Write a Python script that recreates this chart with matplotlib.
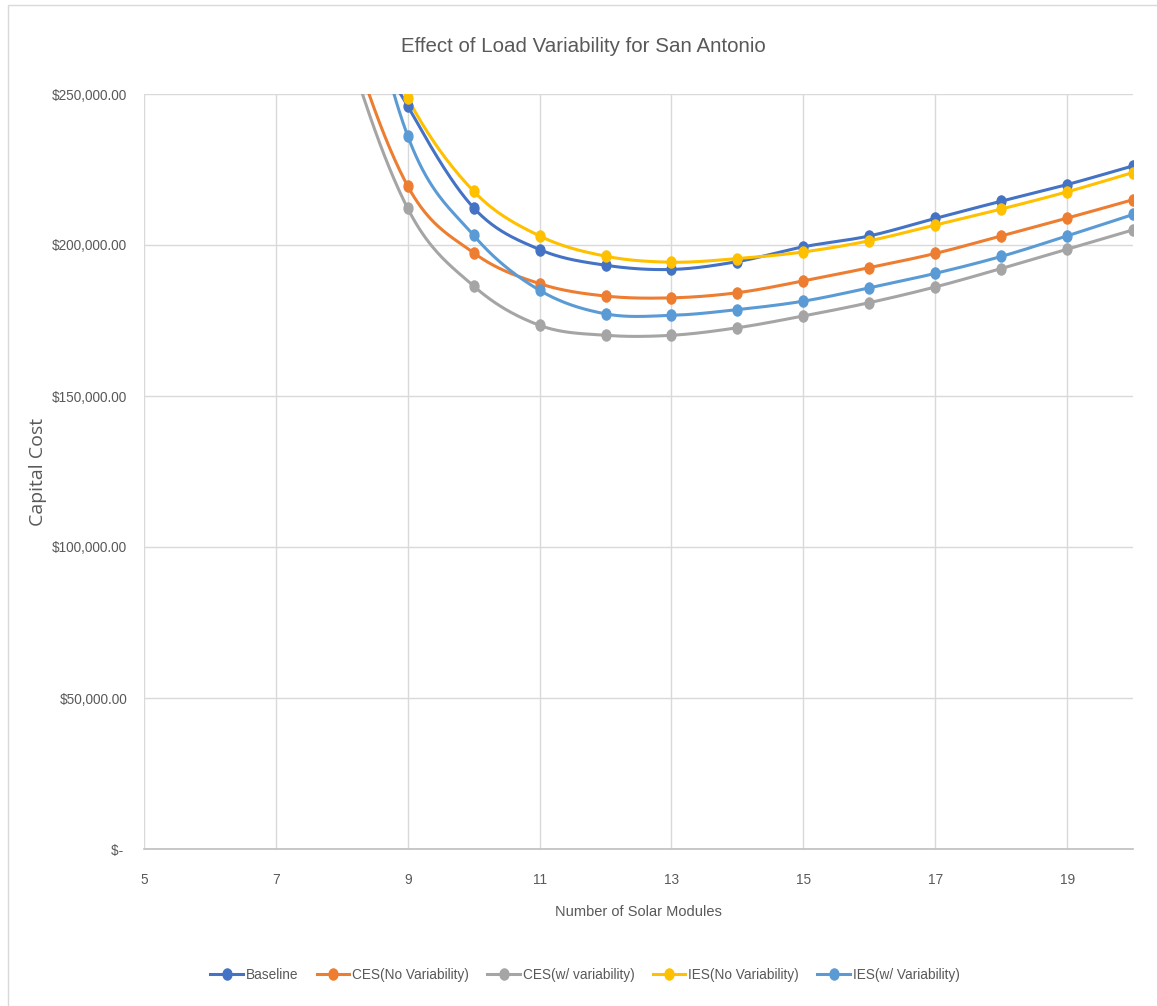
import matplotlib
matplotlib.use("Agg")
import matplotlib.pyplot as plt
import numpy as np
from matplotlib.lines import Line2D
from matplotlib.patches import Rectangle
from matplotlib.path import Path
from matplotlib.transforms import Affine2D

plt.rcParams['font.family'] = ['Liberation Sans Narrow', 'Liberation Sans', 'DejaVu Sans']

# ---------------- data ----------------
modules = [7, 8, 9, 10, 11, 12, 13, 14, 15, 16, 17, 18, 19, 20]
baseline = [400000, 290000, 246000, 212300, 198500, 193300, 191900, 194500,
            199400, 203000, 208800, 214500, 220000, 226200]
ces_no_var = [365000, 278000, 219500, 197400, 187200, 183100, 182500, 184200,
              188100, 192500, 197200, 203000, 208900, 215000]
ces_w_var = [360000, 272000, 212100, 186400, 173400, 170100, 170100, 172600,
             176500, 180900, 186100, 192200, 198600, 205000]
ies_no_var = [410000, 300000, 248600, 217800, 203000, 196300, 194300, 195500,
              197700, 201400, 206600, 211900, 217600, 224000]
ies_w_var = [420000, 320000, 236100, 203200, 185000, 177200, 176700, 178600,
             181400, 185800, 190600, 196200, 203000, 210100]

series_names = ["Baseline", "CES(No Variability)", "CES(w/ variability)",
                "IES(No Variability)", "IES(w/ Variability)"]
series_values = [baseline, ces_no_var, ces_w_var, ies_no_var, ies_w_var]
series_colors = ["#4472C4", "#ED7D31", "#A5A5A5", "#FFC000", "#5B9BD5"]

x_ticks = [5, 7, 9, 11, 13, 15, 17, 19]
y_ticks = [0, 50000, 100000, 150000, 200000, 250000]
y_tick_labels = ["$- ", "$50,000.00", "$100,000.00", "$150,000.00",
                 "$200,000.00", "$250,000.00"]

title = "Effect of Load Variability for San Antonio"
x_label = "Number of Solar Modules"
y_label = "Capital Cost"


def smooth(xs, ys, n=40):
    """Excel-like smoothed line (uniform Catmull-Rom through the points)."""
    xs = np.asarray(xs, float)
    ys = np.asarray(ys, float)
    px = np.concatenate([[xs[0]], xs, [xs[-1]]])
    py = np.concatenate([[ys[0]], ys, [ys[-1]]])
    ox, oy = [], []
    t = np.linspace(0, 1, n, endpoint=False)
    h00 = 2 * t**3 - 3 * t**2 + 1
    h10 = t**3 - 2 * t**2 + t
    h01 = -2 * t**3 + 3 * t**2
    h11 = t**3 - t**2
    for i in range(1, len(px) - 2):
        mx0 = (px[i + 1] - px[i - 1]) / 2
        mx1 = (px[i + 2] - px[i]) / 2
        my0 = (py[i + 1] - py[i - 1]) / 2
        my1 = (py[i + 2] - py[i]) / 2
        ox.append(h00 * px[i] + h10 * mx0 + h01 * px[i + 1] + h11 * mx1)
        oy.append(h00 * py[i] + h10 * my0 + h01 * py[i + 1] + h11 * my1)
    ox.append([xs[-1]])
    oy.append([ys[-1]])
    return np.concatenate(ox), np.concatenate(oy)


# slightly tall elliptical marker (the reference is horizontally squeezed)
circ = Path.unit_circle()
ell_marker = Path(Affine2D().scale(0.8, 1.0).transform(circ.vertices), circ.codes)

W, H = 1157, 1006
fig = plt.figure(figsize=(W / 100, H / 100), dpi=100)
fig.patch.set_facecolor("white")

# outer chart border
fig.add_artist(Rectangle((8 / W, -0.01), 1.2, 1 - 5 / H + 0.01,
                         transform=fig.transFigure, fill=False,
                         edgecolor="#D9D9D9", linewidth=1.0))

ax = fig.add_axes([144 / W, 1 - 849 / H, (1133 - 144) / W, (849 - 94) / H])
ax.set_xlim(5, 20)
ax.set_ylim(0, 250000)

for name, vals, col in zip(series_names, series_values, series_colors):
    sx, sy = smooth(modules, vals)
    ax.plot(sx, sy, color=col, linewidth=2.2, solid_capstyle="round", zorder=3)
    ax.plot(modules, vals, linestyle="none", marker=ell_marker, markersize=8,
            color=col, markeredgecolor=col, zorder=4)

ax.set_xticks(x_ticks)
ax.set_yticks(y_ticks)
ax.set_yticklabels(y_tick_labels)
ax.tick_params(axis="both", length=0, labelsize=9.8, labelcolor="#595959")
ax.tick_params(axis="x", pad=17.5)
ax.tick_params(axis="y", pad=12)
ax.grid(True, color="#D9D9D9", linewidth=1.0)
ax.set_axisbelow(True)
for s in ["top", "right", "left"]:
    ax.spines[s].set_visible(False)
ax.spines["bottom"].set_color("#BFBFBF")
ax.spines["bottom"].set_linewidth(1.2)

fig.text(583 / W, 1 - 47 / H, title, ha="center", va="center",
         fontsize=14.8, color="#595959")
fig.text(638 / W, 1 - 912 / H, x_label, ha="center", va="center",
         fontsize=10.5, color="#595959")
fig.text(38 / W, 1 - 472 / H, y_label, ha="center", va="center",
         rotation=90, fontsize=14, color="#595959",
         family=["Open Sans", "DejaVu Sans"])

handles = [Line2D([0], [0], color=c, linewidth=2.2, marker=ell_marker,
                  markersize=8) for c in series_colors]
fig.legend(handles, series_names, loc="center", ncol=5,
           bbox_to_anchor=(585 / W, 1 - 975 / H), frameon=False,
           fontsize=9.8, labelcolor="#595959", handlelength=2.4,
           handletextpad=0.2, columnspacing=1.35)

fig.savefig("out.png", dpi=100, facecolor="white")
